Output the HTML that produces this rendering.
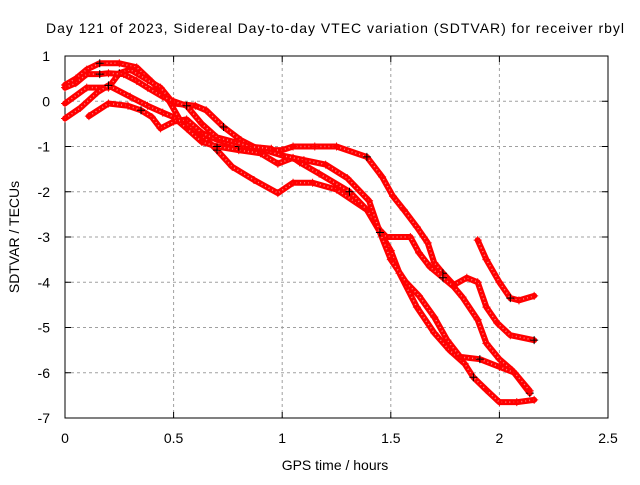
<!DOCTYPE html>
<html><head><meta charset="utf-8"><style>
html,body{margin:0;padding:0;background:#fff}
svg text{font-family:"Liberation Sans",sans-serif;fill:#000}
</style></head><body>
<svg id="chart" width="640" height="480" viewBox="0 0 640 480" xmlns="http://www.w3.org/2000/svg">
<text x="335" y="33" font-size="14" text-anchor="middle" textLength="578">Day 121 of 2023, Sidereal Day-to-day VTEC variation (SDTVAR) for receiver rbyl</text>
<g id="grid"></g>
<g id="axes"></g>
<g id="series"></g>
<text x="335" y="470" font-size="14" text-anchor="middle">GPS time / hours</text>
<text transform="translate(19,237) rotate(-90)" font-size="14" text-anchor="middle">SDTVAR / TECUs</text>
</svg>
<script>
const xTicks=[0,0.5,1,1.5,2,2.5];
const xTickLabels=["0","0.5","1","1.5","2","2.5"];
const yTicks=[1,0,-1,-2,-3,-4,-5,-6,-7];
const yTickLabels=["1","0","-1","-2","-3","-4","-5","-6","-7"];
const s1T=[0,0.05,0.1,0.16,0.25,0.33,0.4,0.48,0.53,0.62,0.7,0.77,0.87,0.98,1.05,1.14,1.25,1.39,1.5,1.54,1.62,1.7,1.77,1.84,1.88,1.94,2.0,2.08,2.16];
const s1V=[0.36,0.5,0.7,0.84,0.84,0.75,0.43,0,-0.42,-0.7,-1.08,-1.45,-1.74,-2.03,-1.8,-1.8,-1.95,-2.4,-3.3,-3.8,-4.55,-5.12,-5.5,-5.8,-6.1,-6.38,-6.65,-6.65,-6.6];
const s2T=[0,0.1,0.2,0.25,0.3,0.38,0.44,0.5,0.6,0.65,0.73,0.81,0.9,1.0,1.05,1.15,1.25,1.39,1.46,1.51,1.56,1.62,1.67,1.7,1.74,1.79,1.85,1.9,1.94,1.99,2.05,2.16];
const s2V=[-0.05,0.3,0.3,0.62,0.7,0.47,0.3,-0.05,-0.1,-0.2,-0.57,-0.86,-1.08,-1.08,-1.0,-1.0,-1.0,-1.23,-1.67,-2.1,-2.4,-2.78,-3.13,-3.57,-3.8,-4.06,-3.9,-4.0,-4.55,-4.9,-5.17,-5.28];
const s3T=[0,0.07,0.15,0.2,0.3,0.38,0.45,0.5,0.56,0.63,0.7,0.8,0.9,0.98,1.05,1.08,1.17,1.31,1.39,1.45,1.48,1.59,1.63,1.68,1.74,1.79,1.83,1.9,1.94,2.0,2.06,2.14];
const s3V=[-0.38,-0.15,0.2,0.35,0.1,-0.1,-0.25,-0.35,-0.6,-0.9,-1.0,-1.08,-1.15,-1.38,-1.25,-1.35,-1.6,-2.0,-2.4,-2.85,-3.0,-3.0,-3.35,-3.66,-3.9,-4.1,-4.33,-4.83,-5.35,-5.7,-5.95,-6.45];
const s4T=[0.11,0.2,0.29,0.35,0.4,0.44,0.5,0.56,0.63,0.7,0.8,0.9,1.0,1.1,1.2,1.3,1.4,1.45,1.5,1.57,1.63,1.7,1.76,1.82,1.91,2.0,2.07,2.14];
const s4V=[-0.33,-0.05,-0.1,-0.2,-0.35,-0.6,-0.45,-0.4,-0.7,-0.85,-1.0,-1.05,-1.2,-1.3,-1.4,-1.7,-2.2,-2.9,-3.5,-4.0,-4.3,-4.77,-5.28,-5.65,-5.7,-5.87,-6.0,-6.4];
const s5T=[0,0.05,0.1,0.16,0.2,0.27,0.33,0.38,0.45,0.5,0.56,0.63,0.7,0.78,0.85,0.95];
const s5V=[0.3,0.4,0.6,0.6,0.62,0.6,0.45,0.3,0.1,0,-0.1,-0.5,-0.8,-0.9,-1.0,-1.05];
const s6T=[1.9,1.94,2.0,2.05,2.09,2.16];
const s6V=[-3.07,-3.5,-4.0,-4.35,-4.4,-4.3];

const L=65,R=608,T=56,B=418;
const xS=t=>L+(t-0)/(2.5-0)*(R-L);
const yS=v=>T+(1-v)/(8)*(B-T);
const NS="http://www.w3.org/2000/svg";
function mk(tag,attrs,parent){const e=document.createElementNS(NS,tag);for(const k in attrs)e.setAttribute(k,attrs[k]);parent.appendChild(e);return e;}
const grid=document.getElementById('grid'),axes=document.getElementById('axes'),ser=document.getElementById('series');
xTicks.forEach((t,i)=>{
  const x=xS(t);
  if(i>0&&i<xTicks.length-1){const g=mk('line',{x1:x,x2:x,y1:T,y2:B,stroke:'#a0a0a0','stroke-dasharray':'3,3'},grid);
  
  }
  mk('line',{x1:x,x2:x,y1:B,y2:B-6,stroke:'#000'},axes);
  mk('line',{x1:x,x2:x,y1:T,y2:T+6,stroke:'#000'},axes);
  const tx=mk('text',{x:x,y:B+25,'font-size':'14','text-anchor':'middle'},axes);tx.textContent=xTickLabels[i];
  
  
});
yTicks.forEach((v,i)=>{
  const y=yS(v);
  if(i>0&&i<yTicks.length-1){const g=mk('line',{x1:L,x2:R,y1:y,y2:y,stroke:'#a0a0a0','stroke-dasharray':'3,3'},grid);
  
  }
  mk('line',{x1:L,x2:L+6,y1:y,y2:y,stroke:'#000'},axes);
  mk('line',{x1:R,x2:R-6,y1:y,y2:y,stroke:'#000'},axes);
  const tx=mk('text',{x:L-15,y:y+5,'font-size':'14','text-anchor':'end'},axes);tx.textContent=yTickLabels[i];
  
  
});
const fr=mk('rect',{x:L,y:T,width:R-L,height:B-T,fill:'none',stroke:'#000'},axes);


const all=[[s1T,s1V],[s2T,s2V],[s3T,s3V],[s4T,s4V],[s5T,s5V],[s6T,s6V]];
all.forEach((s,si)=>{
  const g=mk('g',{},ser);
  
  
  const pts=s[0].map((t,i)=>xS(t)+','+yS(s[1][i])).join(' ');
  mk('polyline',{points:pts,fill:'none',stroke:'#f00','stroke-width':'6','stroke-linejoin':'round','stroke-linecap':'round'},g);
  mk('polyline',{points:pts,fill:'none',stroke:'#fff','stroke-width':'1.5','stroke-opacity':'0.5','stroke-dasharray':'1,3'},g);
  s[0].forEach((t,i)=>{
    const x=xS(t),y=yS(s[1][i]);
    const p=mk('path',{d:`M${x-4},${y}h8M${x},${y-4}v8`,stroke:(i%7==3)?'#000':'#f00','stroke-width':'1'},g);
    
    
  });
});
</script>
</body></html>
